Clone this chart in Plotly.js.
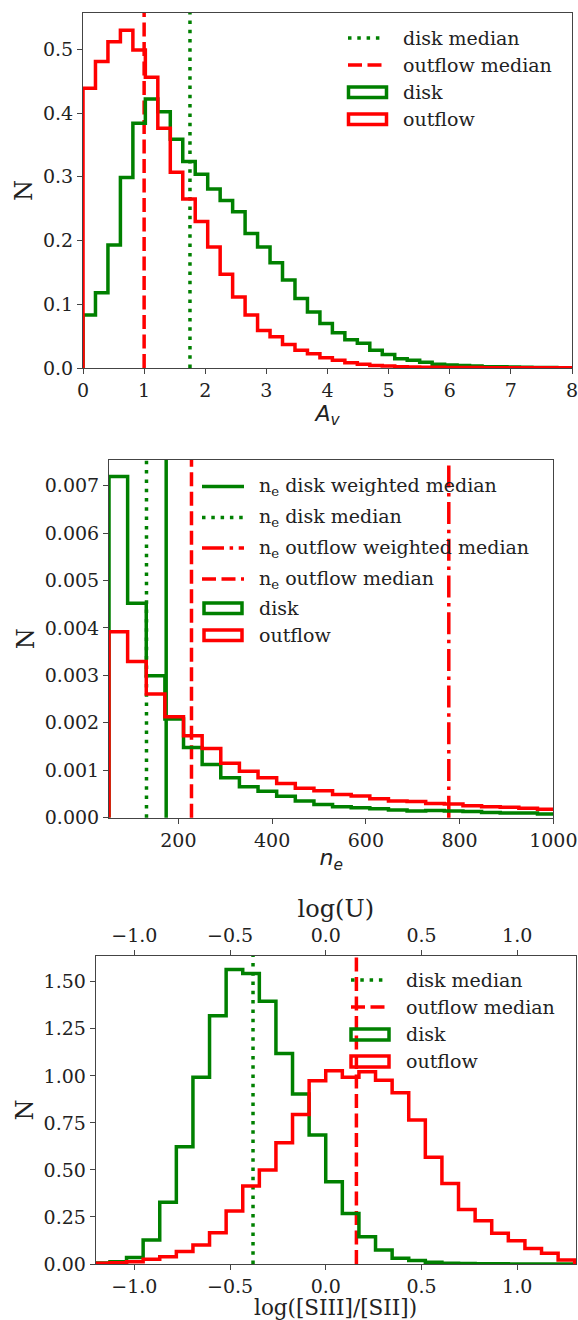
<!DOCTYPE html>
<html><head><meta charset="utf-8">
<script src="https://cdn.plot.ly/plotly-3.0.1.min.js"></script>
<style>html,body{margin:0;padding:0;background:#fff}</style>
</head><body><div id="chart" style="width:578px;height:1320px"></div>
<script>
// ---------- Panel 1: A_v ----------
const avBinStart = 0;
const avBinWidth = 0.204;
const avDisk = [0.083, 0.118, 0.193, 0.299, 0.384, 0.422, 0.402, 0.359, 0.324, 0.304,
  0.281, 0.263, 0.245, 0.211, 0.190, 0.165, 0.138, 0.109, 0.088, 0.070,
  0.0555, 0.0445, 0.039, 0.028, 0.021, 0.0147, 0.012, 0.009, 0.0058, 0.0047,
  0.004, 0.003, 0.002, 0.002, 0.0015, 0.001, 0.0008, 0.0006, 0.0005, 0.0004];
const avOutflow = [0.439, 0.481, 0.512, 0.530, 0.499, 0.456, 0.376, 0.307, 0.265, 0.230,
  0.190, 0.147, 0.1115, 0.083, 0.059, 0.049, 0.037, 0.028, 0.0225, 0.016,
  0.012, 0.0084, 0.0058, 0.004, 0.003, 0.002, 0.0015, 0.0012, 0.001, 0.0008,
  0.0007, 0.0006, 0.0005, 0.0004, 0.0004, 0.0003, 0.0003, 0.0002, 0.0002, 0.0002];
const avDiskMedian = 1.75;
const avOutflowMedian = 1.0;
const avTicks = [0, 1, 2, 3, 4, 5, 6, 7, 8];

// ---------- Panel 2: n_e ----------
const neBinStart = 52;
const neBinWidth = 39.75;
const neDisk = [0.00719, 0.00452, 0.00299, 0.00208, 0.00148, 0.00112, 0.00084, 0.00065, 0.00056, 0.00045,
  0.00035, 0.00028, 0.00023, 0.00021, 0.00019, 0.00016, 0.00014, 0.00015, 0.00014, 0.00013,
  0.00011, 0.00010, 0.00010, 0.00008, 0.00007];
const neOutflow = [0.00392, 0.00329, 0.00261, 0.00213, 0.00173, 0.00146, 0.00115, 0.00098, 0.00084, 0.00072,
  0.00062, 0.00057, 0.00049, 0.00046, 0.00040, 0.00035, 0.00034, 0.00030, 0.00029, 0.00025,
  0.00023, 0.00022, 0.00020, 0.00018, 0.00017];
const neDiskWeightedMedian = 174;
const neDiskMedian = 132;
const neOutflowWeightedMedian = 777;
const neOutflowMedian = 228;
const neTicks = [200, 400, 600, 800, 1000];

// ---------- Panel 3: log([SIII]/[SII]) ----------
const sBinStart = -1.214;
const sBinWidth = 0.0867;
const sDisk = [0.005, 0.012, 0.035, 0.128, 0.328, 0.623, 0.992, 1.319, 1.565, 1.544,
  1.397, 1.119, 0.903, 0.685, 0.437, 0.269, 0.145, 0.074, 0.030, 0.018,
  0.009, 0.004, 0.002, 0.001, 0.001, 0.0005, 0.0005, 0.0003, 0.0002];
const sOutflow = [0.004, 0.007, 0.012, 0.025, 0.039, 0.066, 0.101, 0.166, 0.282, 0.414,
  0.499, 0.645, 0.795, 0.974, 1.027, 0.992, 1.022, 0.977, 0.910, 0.765,
  0.567, 0.428, 0.290, 0.230, 0.163, 0.124, 0.083, 0.057, 0.021];
const sDiskMedian = -0.38;
const sOutflowMedian = 0.16;
const sTicks = [-1.0, -0.5, 0.0, 0.5, 1.0];
const sTickText = ['\u22121.0', '\u22120.5', '0.0', '0.5', '1.0'];
const uTicks = [-1.0, -0.5, 0.0, 0.5, 1.0];
const uTickText = ['\u22121.0', '\u22120.5', '0.0', '0.5', '1.0'];

// ---------- styles ----------
const GREEN = '#008000', RED = '#ff0000';
const LW = 3.5;
const DOT = '3.5px,5.8px', DASH = '14px,5.5px', DASHDOT = '22px,5.6px,3.5px,5.6px';
const W = 578, H = 1320;
const serif = 'DejaVu Serif';
const FS = 19;

function stepXY(start, width, vals) {
  const x = [start], y = [0];
  vals.forEach((v, i) => { x.push(start + i * width); y.push(v); });
  x.push(start + vals.length * width); y.push(0);
  return {x, y};
}
function stepTrace(start, width, vals, color, xa, ya) {
  const s = stepXY(start, width, vals);
  return {type: 'scatter', mode: 'lines', x: s.x, y: s.y, xaxis: xa, yaxis: ya,
    line: {color: color, width: LW, shape: 'hv'}, showlegend: false, hoverinfo: 'skip', cliponaxis: true};
}
function vline(xv, xref, yref, color, dash) {
  return {type: 'line', xref: xref, yref: yref + ' domain', x0: xv, x1: xv, y0: 0, y1: 1,
    line: {color: color, width: LW, dash: dash}, layer: 'below'};
}
const px = v => v / W, py = v => 1 - v / H;
const shapes = [], annotations = [];
function legLine(x0, x1, yc, color, dash) {
  shapes.push({type: 'line', xref: 'paper', yref: 'paper', x0: px(x0), x1: px(x1), y0: py(yc), y1: py(yc),
    line: {color: color, width: LW, dash: dash}});
}
function legRect(x0, x1, y0, y1, color) {
  shapes.push({type: 'rect', xref: 'paper', yref: 'paper', x0: px(x0), x1: px(x1), y0: py(y1), y1: py(y0),
    line: {color: color, width: LW}, fillcolor: 'rgba(0,0,0,0)'});
}
function legText(x, yc, text) {
  annotations.push({xref: 'paper', yref: 'paper', x: px(x), y: py(yc), xanchor: 'left', yanchor: 'middle',
    text: text, showarrow: false, font: {family: serif, size: FS, color: '#222'}});
}

const traces = [
  stepTrace(avBinStart, avBinWidth, avDisk, GREEN, 'x', 'y'),
  stepTrace(avBinStart, avBinWidth, avOutflow, RED, 'x', 'y'),
  stepTrace(neBinStart, neBinWidth, neDisk, GREEN, 'x2', 'y2'),
  stepTrace(neBinStart, neBinWidth, neOutflow, RED, 'x2', 'y2'),
  stepTrace(sBinStart, sBinWidth, sDisk, GREEN, 'x3', 'y3'),
  stepTrace(sBinStart, sBinWidth, sOutflow, RED, 'x3', 'y3'),
  {type: 'scatter', x: [], y: [], xaxis: 'x4', yaxis: 'y3', showlegend: false}
];

shapes.push(vline(avDiskMedian, 'x', 'y', GREEN, DOT));
shapes.push(vline(avOutflowMedian, 'x', 'y', RED, DASH));
shapes.push(vline(neDiskWeightedMedian, 'x2', 'y2', GREEN, 'solid'));
shapes.push(vline(neDiskMedian, 'x2', 'y2', GREEN, DOT));
shapes.push(vline(neOutflowWeightedMedian, 'x2', 'y2', RED, DASHDOT));
shapes.push(vline(neOutflowMedian, 'x2', 'y2', RED, DASH));
shapes.push(vline(sDiskMedian, 'x3', 'y3', GREEN, DOT));
shapes.push(vline(sOutflowMedian, 'x3', 'y3', RED, DASH));

// legend panel 1
legLine(348, 384, 38, GREEN, DOT); legText(401, 38, 'disk median');
legLine(348, 384, 65, RED, DASH); legText(401, 65, 'outflow median');
legRect(348.5, 386.5, 87, 97.5, GREEN); legText(401, 92, 'disk');
legRect(348.5, 386.5, 114, 124.5, RED); legText(401, 119, 'outflow');
// legend panel 2
legLine(202, 244, 486.5, GREEN, 'solid'); legText(257, 486.5, 'n<sub>e</sub> disk weighted median');
legLine(202, 244, 517.5, GREEN, DOT); legText(257, 517.5, 'n<sub>e</sub> disk median');
legLine(202, 244, 548, RED, DASHDOT); legText(257, 548, 'n<sub>e</sub> outflow weighted median');
legLine(202, 244, 579, RED, DASH); legText(257, 579, 'n<sub>e</sub> outflow median');
legRect(204, 242, 603, 613.5, GREEN); legText(257, 608, 'disk');
legRect(204, 242, 630, 640.5, RED); legText(257, 635, 'outflow');
// legend panel 3
legLine(351, 386, 980, GREEN, DOT); legText(404, 980, 'disk median');
legLine(351, 386, 1007, RED, DASH); legText(404, 1007, 'outflow median');
legRect(351, 389, 1029, 1040, GREEN); legText(404, 1034, 'disk');
legRect(351, 389, 1056, 1067, RED); legText(404, 1061, 'outflow');

const axBase = {showgrid: false, zeroline: false, showline: true, mirror: true, linecolor: '#444', linewidth: 1,
  ticks: 'outside', ticklen: 5, tickwidth: 1, tickcolor: '#444', ticklabeloverflow: 'allow',
  tickfont: {family: serif, size: FS, color: '#222'}};
const titleFont = {family: serif, size: 24, color: '#222'};
const mathFont = {family: 'DejaVu Sans', size: 22, color: '#222'};

// bottom x title of panel 3, placed just under the tick labels
annotations.push({xref: 'x3 domain', yref: 'paper', x: 0.5, y: py(1307.6), xanchor: 'center', yanchor: 'middle',
  text: 'log([SIII]/[SII])', showarrow: false, font: {family: serif, size: 21.5, color: '#222'}});

const layout = {
  width: W, height: H, margin: {l: 0, r: 0, t: 0, b: 0},
  paper_bgcolor: '#fff', plot_bgcolor: '#fff', showlegend: false,
  xaxis: Object.assign({}, axBase, {domain: [px(83), px(572)], anchor: 'y', range: [0, 8],
    tickvals: avTicks, ticktext: avTicks.map(String),
    title: {text: '<i>A<sub>v</sub></i>', font: mathFont, standoff: 0}}),
  yaxis: Object.assign({}, axBase, {domain: [py(368), py(13)], anchor: 'x', range: [0, 0.557],
    dtick: 0.1, tick0: 0, tickformat: '.1f', title: {text: 'N', font: titleFont, standoff: 3}}),
  xaxis2: Object.assign({}, axBase, {domain: [px(109), px(553.3)], anchor: 'y2', range: [neBinStart, 1000],
    tickvals: neTicks, ticktext: neTicks.map(String),
    title: {text: '<i>n<sub>e</sub></i>', font: mathFont, standoff: 0}}),
  yaxis2: Object.assign({}, axBase, {domain: [py(817.7), py(460)], anchor: 'x2', range: [0, 0.00754],
    dtick: 0.001, tick0: 0, tickformat: '.3f', title: {text: 'N', font: titleFont, standoff: 3}}),
  xaxis3: Object.assign({}, axBase, {domain: [px(95.7), px(576)], anchor: 'y3', range: [-1.2017, 1.307],
    tickvals: sTicks, ticktext: sTickText}),
  xaxis4: Object.assign({}, axBase, {domain: [px(95.7), px(576)], anchor: 'y3', overlaying: 'x3', side: 'top',
    range: [-1.2017, 1.307], tickvals: uTicks, ticktext: uTickText, mirror: false,
    title: {text: 'log(U)', font: titleFont, standoff: 0}}),
  yaxis3: Object.assign({}, axBase, {domain: [py(1264), py(956)], anchor: 'x3', range: [0, 1.637],
    dtick: 0.25, tick0: 0, tickformat: '.2f', title: {text: 'N', font: titleFont, standoff: 3}}),
  shapes: shapes,
  annotations: annotations
};

Plotly.newPlot('chart', traces, layout, {displayModeBar: false, staticPlot: true});
</script>
</body></html>
